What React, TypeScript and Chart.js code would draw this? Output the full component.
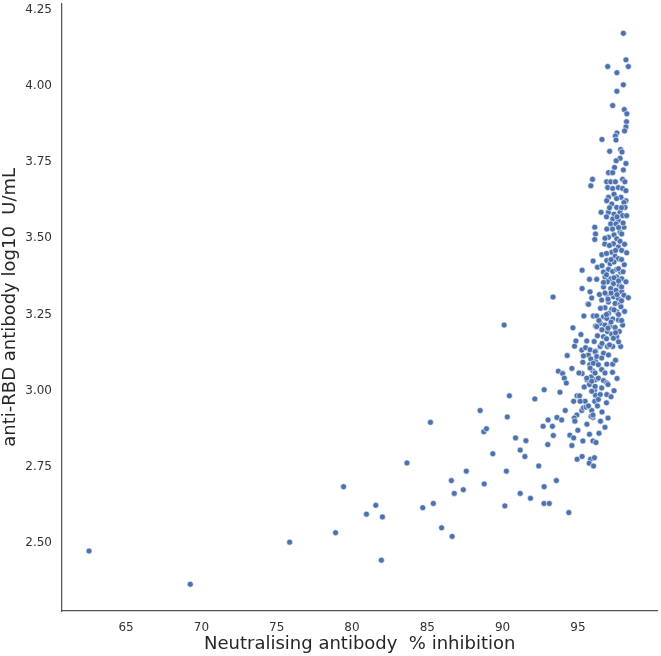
import { useEffect, useRef } from "react";
import { Chart, registerables } from "chart.js";

Chart.register(...registerables);

const xTickValues = [65, 70, 75, 80, 85, 90, 95];
const yTickValues = [2.5, 2.75, 3.0, 3.25, 3.5, 3.75, 4.0, 4.25];
const xTitle = "Neutralising antibody  % inhibition";
const yTitle = "anti-RBD antibody log10  U/mL";

// [inhibition %, log10 U/mL]
const sparsePoints: [number, number][] = [
  [62.54, 2.474], [69.26, 2.365], [75.86, 2.503], [78.91, 2.534], [79.44, 2.685], [80.96, 2.595], [81.58, 2.624], [82.02, 2.586], [81.95, 2.444], [83.65, 2.763],
  [85.21, 2.896], [84.70, 2.616], [85.40, 2.630], [85.95, 2.550], [86.65, 2.522], [86.60, 2.705], [86.79, 2.663], [87.39, 2.675], [87.59, 2.736], [88.51, 2.935],
  [88.75, 2.865], [88.93, 2.875], [88.78, 2.694], [89.35, 2.793], [90.10, 3.215], [90.31, 2.914], [90.45, 2.983], [90.25, 2.736], [90.15, 2.622], [90.86, 2.845],
  [91.17, 2.805], [91.48, 2.784], [91.55, 2.836], [91.17, 2.663], [91.85, 2.647], [92.40, 2.753], [92.76, 2.685], [92.75, 2.630], [93.10, 2.630], [93.57, 2.705],
  [94.40, 2.600],
];

const midPoints: [number, number][] = [
  [93.00, 2.823], [93.37, 2.853], [92.69, 2.883], [93.31, 2.883], [93.02, 2.904], [93.61, 2.912], [93.92, 2.904], [92.14, 2.973], [92.76, 3.003], [93.81, 2.995],
  [94.16, 2.935], [94.47, 2.854], [94.72, 2.845], [94.95, 2.775], [95.28, 2.784], [95.84, 2.775], [95.75, 2.762], [96.04, 2.753], [96.00, 2.835], [93.70, 3.064],
  [93.99, 3.056], [94.10, 3.041], [94.23, 3.025], [94.60, 3.073], [94.29, 3.115], [94.67, 3.206], [95.20, 3.184], [94.78, 3.146], [95.26, 3.133], [95.40, 3.245],
  [95.66, 3.284], [95.59, 3.163], [95.33, 3.093], [95.79, 3.085], [95.28, 3.056], [95.59, 3.036], [94.94, 2.983], [95.11, 2.983], [94.72, 2.965], [93.35, 3.307],
  [95.26, 2.935], [95.37, 2.944], [95.92, 2.935], [95.99, 2.912], [96.03, 3.246], [96.17, 3.212], [96.08, 3.161], [96.19, 3.130], [96.17, 3.096], [96.17, 3.036],
  [96.12, 3.003], [96.17, 2.985], [96.12, 2.965], [95.70, 3.117], [95.86, 3.104], [95.99, 3.065], [95.77, 3.020], [95.92, 2.998], [95.48, 2.965], [94.87, 3.163],
  [95.37, 3.114], [95.51, 3.141], [95.07, 3.058], [95.88, 3.045], [95.42, 3.012], [95.15, 2.965], [95.55, 2.946], [95.88, 2.916], [95.77, 2.857], [95.33, 2.835],
  [94.60, 2.820], [94.93, 2.920], [94.76, 2.910],
];

const leftEdgePoints: [number, number][] = [
  [95.28, 3.395], [95.77, 3.365], [95.28, 3.335], [95.81, 3.324], [95.92, 3.304], [95.71, 3.283], [96.54, 3.585], [96.12, 3.536], [96.17, 3.514], [96.12, 3.496],
  [96.78, 3.481], [96.59, 3.446], [96.01, 3.425], [96.30, 3.405], [96.25, 3.365], [96.43, 3.315],
];

const upperPoints: [number, number][] = [
  [98.02, 4.172], [98.19, 4.085], [96.98, 4.063], [98.35, 4.063], [97.59, 4.043], [98.02, 4.003], [97.59, 3.982], [97.31, 3.935], [98.08, 3.922], [98.25, 3.908],
  [98.23, 3.882], [98.19, 3.865], [98.10, 3.852], [97.59, 3.845], [97.49, 3.835], [96.60, 3.824], [97.53, 3.822], [97.11, 3.785], [97.84, 3.791], [97.93, 3.783],
  [97.80, 3.762], [97.54, 3.754], [98.19, 3.745], [97.43, 3.732], [98.02, 3.724], [97.03, 3.715], [97.31, 3.715], [95.97, 3.693], [95.86, 3.672], [96.91, 3.685],
  [97.18, 3.685], [97.49, 3.685], [97.97, 3.693], [98.12, 3.685], [96.98, 3.666], [97.31, 3.663], [97.69, 3.666], [97.97, 3.663], [98.19, 3.656], [97.40, 3.644],
  [97.03, 3.634], [97.86, 3.634], [97.57, 3.630], [96.91, 3.623], [98.19, 3.623],
];

const clusterPoints: [number, number][] = [
  [98.06, 3.617], [97.25, 3.612], [97.58, 3.601], [98.13, 3.601], [97.03, 3.585], [97.40, 3.579], [97.80, 3.585], [97.97, 3.574], [98.24, 3.574], [97.31, 3.563],
  [97.69, 3.558], [97.18, 3.547], [97.53, 3.547], [98.06, 3.536], [96.92, 3.530], [97.80, 3.520], [97.40, 3.511], [97.03, 3.503], [97.91, 3.514], [97.58, 3.498],
  [97.36, 3.482], [97.09, 3.476], [97.69, 3.471], [97.91, 3.460], [98.24, 3.452], [97.25, 3.454], [97.47, 3.441], [97.69, 3.433], [96.92, 3.427], [97.14, 3.416],
  [97.40, 3.422], [98.08, 3.413], [96.70, 3.389], [97.03, 3.398], [97.31, 3.391], [97.58, 3.398], [97.84, 3.389], [96.80, 3.373], [97.18, 3.367], [97.58, 3.373],
  [97.91, 3.367], [98.19, 3.357], [96.96, 3.357], [97.36, 3.351], [97.75, 3.346], [96.70, 3.340], [97.18, 3.335], [97.53, 3.329], [97.91, 3.324], [98.06, 3.313],
  [96.92, 3.315], [97.36, 3.308], [97.69, 3.302], [98.35, 3.305], [96.58, 3.297], [97.03, 3.291], [97.47, 3.286], [97.80, 3.283], [96.80, 3.272], [97.25, 3.267],
  [97.86, 3.275], [97.58, 3.259], [97.03, 3.253], [96.03, 3.245], [96.25, 3.245], [96.70, 3.242], [96.92, 3.237], [97.31, 3.235], [97.69, 3.232], [97.97, 3.215],
  [96.48, 3.221], [96.80, 3.215], [97.14, 3.213], [97.47, 3.207], [97.75, 3.194], [96.25, 3.210], [96.58, 3.199], [96.96, 3.194], [97.25, 3.185], [96.70, 3.177],
  [97.58, 3.177], [97.36, 3.172], [97.84, 3.145], [96.96, 3.145], [97.31, 3.145], [96.48, 3.145], [95.81, 3.134], [96.14, 3.128], [96.70, 3.123], [97.03, 3.117],
  [96.25, 3.112], [96.58, 3.107], [96.92, 3.087], [97.31, 3.087], [96.03, 3.090], [96.36, 3.085], [95.81, 3.074], [96.58, 3.069], [96.14, 3.058], [96.80, 3.058],
  [95.59, 3.041], [96.36, 3.041], [96.70, 3.033], [95.92, 3.031], [96.14, 3.014], [96.58, 3.009], [96.92, 3.025], [96.48, 2.987], [96.92, 2.987], [96.36, 2.971],
];

const corePoints: [number, number][] = [
  [97.10, 3.600], [97.90, 3.600], [96.90, 3.570], [97.60, 3.570], [98.00, 3.550], [97.30, 3.530], [97.70, 3.535], [96.80, 3.500], [97.80, 3.490], [98.10, 3.480],
  [97.50, 3.460], [96.90, 3.450], [97.90, 3.430], [97.20, 3.430], [96.60, 3.410], [97.70, 3.400], [98.00, 3.390], [96.90, 3.380], [97.40, 3.370], [97.70, 3.360],
  [96.70, 3.355], [97.90, 3.340], [97.20, 3.320], [96.80, 3.320], [97.60, 3.315], [97.00, 3.300], [97.90, 3.295], [96.50, 3.270], [97.40, 3.265], [98.10, 3.260],
  [96.90, 3.250], [97.70, 3.250], [96.40, 3.230], [97.20, 3.225], [97.90, 3.230], [96.60, 3.200], [97.00, 3.205], [97.50, 3.190], [96.30, 3.180], [96.90, 3.170],
  [97.70, 3.160], [96.60, 3.155], [97.10, 3.150], [97.50, 3.100], [97.30, 3.060], [97.60, 3.040],
];

const lowerClusterPoints: [number, number][] = [
  [96.30, 2.950], [96.60, 2.930], [96.90, 2.960], [97.20, 2.980], [96.50, 2.900], [96.80, 2.880], [96.40, 2.860], [96.20, 2.830],
  [96.10, 2.780], [97.00, 2.910], [97.40, 3.000], [97.00, 3.020], [95.70, 2.950], [96.00, 2.920], [95.60, 2.890], [95.00, 2.870], [94.80, 2.900],
];

export default function App() {
  const ref = useRef<HTMLCanvasElement>(null);

  useEffect(() => {
    document.body.style.margin = "0";
    const all = [
      ...sparsePoints,
      ...midPoints,
      ...leftEdgePoints,
      ...upperPoints,
      ...clusterPoints,
      ...corePoints,
      ...lowerClusterPoints,
    ].map(([x, y]) => ({ x, y }));

    const tickFont = { family: "'DejaVu Sans', sans-serif", size: 12 };
    const titleFont = { family: "'DejaVu Sans', sans-serif", size: 18 };

    const chart = new Chart(ref.current as HTMLCanvasElement, {
      type: "scatter",
      data: {
        datasets: [
          {
            data: all,
            backgroundColor: "#4C72B0",
            borderColor: "#ffffff",
            borderWidth: 0.6,
            pointRadius: 3,
            pointHoverRadius: 3,
          },
        ],
      },
      options: {
        animation: false,
        responsive: false,
        devicePixelRatio: 1,
        layout: { padding: 0 },
        plugins: { legend: { display: false }, tooltip: { enabled: false } },
        scales: {
          x: {
            type: "linear",
            min: 60.743,
            max: 100.28,
            afterBuildTicks: (s: any) => {
              s.ticks = xTickValues.map((v) => ({ value: v }));
            },
            afterFit: (s: any) => {
              s.height = 45;
              s.paddingLeft = 0;
              s.paddingRight = 0;
            },
            grid: { display: false, drawTicks: false },
            border: { display: true, color: "#555555", width: 1.25 },
            ticks: {
              autoSkip: false,
              maxRotation: 0,
              padding: 10,
              color: "#333333",
              font: tickFont,
              callback: (v: any) => String(v),
            },
            title: {
              display: true,
              text: xTitle,
              color: "#262626",
              font: titleFont,
              padding: { top: 0, bottom: 1 },
            },
          },
          y: {
            type: "linear",
            min: 2.2773,
            max: 4.2695,
            afterBuildTicks: (s: any) => {
              s.ticks = yTickValues.map((v) => ({ value: v }));
            },
            afterFit: (s: any) => {
              s.width = 62;
              s.paddingTop = 0;
              s.paddingBottom = 0;
            },
            grid: { display: false, drawTicks: false },
            border: { display: true, color: "#555555", width: 1.25 },
            ticks: {
              autoSkip: false,
              padding: 10,
              color: "#333333",
              font: tickFont,
              callback: (v: any) => Number(v).toFixed(2),
            },
            title: {
              display: true,
              text: yTitle,
              color: "#262626",
              font: titleFont,
              padding: { top: 0, bottom: 0 },
            },
          },
        },
      },
    });
    return () => chart.destroy();
  }, []);

  return <canvas ref={ref} width={661} height={656} style={{ display: "block" }} />;
}
